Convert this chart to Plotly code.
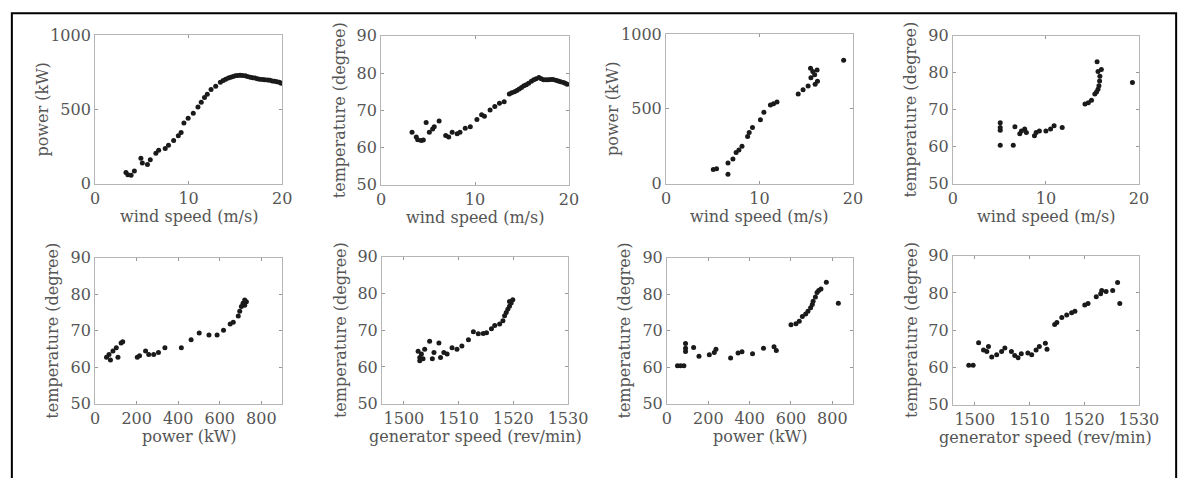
import plotly.graph_objects as go

# ---------------- data ----------------
# Panel 1: power vs wind speed (turbine A)
p1_wind = [3.3, 3.5, 3.85, 4.2, 4.9, 5.05, 5.6, 5.9, 6.5, 6.8, 7.5, 7.85, 8.4, 8.9, 9.2, 9.5,
           9.95, 10.5, 11.0, 11.35, 11.7, 12.0, 12.4, 12.9, 13.4, 13.7, 13.96, 14.25, 14.5,
           14.75, 15.0, 15.25, 15.5, 15.75, 16.06, 16.3, 16.6, 16.85, 17.1, 17.35, 17.6,
           17.9, 18.15, 18.45, 18.7, 18.95, 19.2, 19.45, 19.7, 19.9]
p1_power = [75, 60, 58, 86, 172, 140, 129, 161, 205, 226, 237, 258, 290, 322, 345, 408,
            441, 473, 516, 548, 580, 602, 634, 656, 682, 693, 703, 710, 716,
            721, 725, 728, 729, 728, 725, 721, 716, 713, 710, 706, 703,
            701, 699, 697, 695, 691, 688, 685, 682, 676]

# Panel 2: temperature vs wind speed (turbine A)
p2_wind = [3.3, 3.75, 3.9, 4.27, 4.5, 4.8, 5.14, 5.49, 5.66, 6.18, 6.88, 7.2, 7.57, 8.1, 8.4,
           8.96, 9.5, 10.2, 10.7, 11.0, 11.6, 12.1, 12.6, 13.1, 13.65, 13.9, 14.2, 14.45,
           14.7, 14.95, 15.2, 15.45, 15.7, 16.0, 16.25, 16.5, 16.8, 17.05, 17.3, 17.55,
           17.8, 18.05, 18.3, 18.6, 18.85, 19.1, 19.4, 19.6, 19.8]
p2_temp = [64.1, 62.8, 62.1, 61.9, 62.0, 66.7, 64.1, 65.0, 65.6, 67.1, 63.2, 62.8, 64.1, 63.7, 64.1,
           65.2, 65.6, 67.5, 68.8, 68.4, 70.1, 71.0, 71.9, 72.3, 74.4, 74.7, 75.0, 75.3,
           75.7, 76.1, 76.6, 76.9, 77.3, 77.8, 78.2, 78.5, 78.8, 78.5, 78.2, 78.2,
           78.2, 78.3, 78.3, 78.1, 77.9, 77.7, 77.5, 77.3, 77.0]

# Panel 3: power vs wind speed (turbine B)
p3_wind = [5.06, 5.41, 6.63, 6.63, 7.16, 7.5, 7.8, 8.13, 8.73, 8.9, 9.25, 10.1, 10.47, 11.17,
           11.5, 11.87, 14.14, 14.66, 15.2, 15.5, 15.46, 15.7, 15.9, 16.16, 16.2, 15.95, 19.0]
p3_power = [96, 100, 64, 139, 165, 208, 225, 250, 315, 343, 375, 428, 478, 525,
            535, 546, 600, 627, 653, 707, 771, 749, 728, 760, 685, 664, 824]

# Panel 4: temperature vs wind speed (turbine B)
p4_wind = [5.09, 6.49, 5.09, 5.09, 5.09, 6.67, 7.19, 7.37, 7.72, 7.9, 8.77, 8.95, 9.3, 10.0,
           10.5, 10.88, 11.75, 14.2, 14.56, 14.9, 15.26, 15.44, 15.6, 15.7, 15.77, 15.8,
           15.5, 15.6, 15.96, 19.3]
p4_temp = [60.4, 60.4, 66.5, 65.2, 64.5, 65.4, 63.5, 64.3, 64.8, 63.9, 63.0, 63.9, 64.3, 64.3,
           64.8, 65.7, 65.2, 71.6, 71.9, 72.6, 74.3, 74.8, 75.6, 76.5, 77.8, 79.1,
           83.0, 80.4, 80.9, 77.4]

# Panel 5: temperature vs power (turbine A)
p5_power = [55, 67, 74, 86, 102, 110, 125, 133, 203, 214, 243, 258, 282, 305, 336, 415, 462,
            501, 548, 587, 618, 650, 665, 689, 696, 704, 712, 720, 728, 720]
p5_temp = [62.7, 63.5, 62.0, 64.4, 65.3, 62.7, 66.6, 67.0, 62.7, 63.1, 64.4, 63.5, 63.5, 64.0,
           65.3, 65.3, 67.5, 69.4, 68.8, 68.8, 70.1, 71.8, 72.3, 74.0, 75.3, 76.6, 77.5,
           78.4, 77.9, 77.0]

# Panel 6: temperature vs generator speed (turbine A)
p6_speed = [1502.6, 1502.9, 1503.2, 1502.9, 1503.5, 1503.8, 1504.7, 1505.2, 1505.5, 1506.4,
            1506.7, 1507.3, 1507.9, 1508.8, 1509.7, 1510.6, 1511.8, 1512.7, 1513.6, 1514.5,
            1515.1, 1516.0, 1516.6, 1517.5, 1518.1, 1518.4, 1518.7, 1519.0, 1519.3, 1519.6,
            1519.3, 1519.9]
p6_temp = [64.3, 62.6, 63.5, 61.7, 62.2, 64.8, 67.0, 62.2, 63.9, 66.5,
           62.6, 63.9, 63.5, 65.2, 64.8, 65.7, 67.4, 69.6, 69.0, 69.1,
           69.3, 70.4, 71.3, 71.7, 72.6, 73.9, 74.8, 75.7, 76.5, 77.4,
           77.8, 78.3]

# Panel 7: temperature vs power (turbine B)
p7_power = [51, 66, 82, 90, 90, 90, 129, 155, 205, 229, 237, 308, 344, 363, 414, 467, 518, 529,
            600, 624, 640, 655, 671, 682, 695, 703, 707, 718, 726, 734, 745, 771, 829]
p7_temp = [60.4, 60.4, 60.4, 66.5, 65.2, 64.3, 65.4, 63.0, 63.4, 64.0, 64.9, 62.5, 63.9, 64.2,
           63.7, 65.2, 65.6, 64.6, 71.6, 71.9, 72.6, 73.9, 74.6, 75.3, 76.3, 77.2, 78.1,
           79.2, 80.5, 81.0, 81.4, 83.3, 77.5]

# Panel 8: temperature vs generator speed (turbine B)
p8_speed = [1498.9, 1499.7, 1500.7, 1501.6, 1502.5, 1502.2, 1503.1, 1504.0, 1504.9, 1505.5,
            1506.7, 1507.3, 1507.9, 1508.5, 1509.7, 1510.4, 1511.2, 1511.8, 1512.9, 1513.2,
            1514.6, 1515.0, 1515.9, 1516.8, 1517.7, 1518.3, 1520.1, 1520.7, 1522.2, 1523.0,
            1523.2, 1524.0, 1525.2, 1526.1, 1526.5]
p8_temp = [60.6, 60.6, 66.6, 64.7, 65.6, 64.3, 62.8, 63.4, 64.3, 65.2,
           64.3, 63.2, 62.6, 63.7, 63.9, 63.4, 64.7, 65.6, 66.5, 64.9,
           71.5, 72.1, 73.4, 74.1, 74.7, 75.1, 76.8, 77.2, 79.0, 79.8,
           80.7, 80.4, 80.7, 82.8, 77.2]

# axis texts and ticks
wind_ticks = [0, 10, 20]
power_ticks = [0, 500, 1000]
temp_ticks = [50, 60, 70, 80, 90]
powerx_ticks = [0, 200, 400, 600, 800]
speed_ticks = [1500, 1510, 1520, 1530]

lbl_wind = "wind speed (m/s)"
lbl_power = "power (kW)"
lbl_temp = "temperature (degree)"
lbl_speed = "generator speed (rev/min)"

# ---------------- layout ----------------
W, H = 1203, 478
FONT = "DejaVu Serif"
TXT = "#555555"
FRAME = "#b5b5b5"

panels = [
    # x, y, xlabel, ylabel, xrange, yrange, xticks, yticks, box(L,R,T,B)
    (p1_wind, p1_power, lbl_wind, lbl_power, [0, 20], [0, 1000], wind_ticks, power_ticks, (92, 283, 27, 182)),
    (p2_wind, p2_temp, lbl_wind, lbl_temp, [0, 20], [50, 90], wind_ticks, temp_ticks, (384, 576, 28, 183)),
    (p3_wind, p3_power, lbl_wind, lbl_power, [0, 20], [0, 1000], wind_ticks, power_ticks, (675, 866, 26, 182)),
    (p4_wind, p4_temp, lbl_wind, lbl_temp, [0, 20], [50, 90], wind_ticks, temp_ticks, (968, 1158, 28, 182)),
    (p5_power, p5_temp, lbl_power, lbl_temp, [0, 900], [50, 90], powerx_ticks, temp_ticks, (92, 283, 259, 411)),
    (p6_speed, p6_temp, lbl_speed, lbl_temp, [1496, 1530], [50, 90], speed_ticks, temp_ticks, (385, 575, 258, 411)),
    (p7_power, p7_temp, lbl_power, lbl_temp, [0, 900], [50, 90], powerx_ticks, temp_ticks, (676, 866, 259, 411)),
    (p8_speed, p8_temp, lbl_speed, lbl_temp, [1496, 1530], [50, 90], speed_ticks, temp_ticks, (968, 1158, 257, 412)),
]

fig = go.Figure()
layout = {}
annotations = []
for i, (xs, ys, xl, yl, xr, yr, xt, yt, box) in enumerate(panels, start=1):
    L, R, T, B = box
    sfx = "" if i == 1 else str(i)
    fig.add_trace(go.Scatter(
        x=xs, y=ys, mode="markers", xaxis="x" + sfx, yaxis="y" + sfx,
        marker=dict(size=5, color="#1a1a1a"), showlegend=False, hoverinfo="x+y"))
    common = dict(showgrid=False, zeroline=False, showline=True, linecolor=FRAME, linewidth=1,
                  mirror="ticks", ticks="inside", ticklen=3, tickcolor="#999999",
                  tickfont=dict(family=FONT, size=16, color=TXT), fixedrange=True)
    layout["xaxis" + sfx] = dict(common, domain=[L / W, R / W], range=xr, tickvals=xt,
                                 anchor="y" + sfx)
    layout["yaxis" + sfx] = dict(common, domain=[1 - B / H, 1 - T / H], range=yr, tickvals=yt,
                                 anchor="x" + sfx)
    annotations.append(dict(text=xl, xref="paper", yref="paper", x=(L + R) / 2 / W,
                            y=1 - (B + 34) / H, showarrow=False, xanchor="center", yanchor="middle",
                            font=dict(family=FONT, size=16, color=TXT)))
    off = 54 if yl == lbl_power else 43
    annotations.append(dict(text=yl, xref="paper", yref="paper", x=(L - off) / W,
                            y=1 - (T + B) / 2 / H, showarrow=False, textangle=-90,
                            xanchor="center", yanchor="middle",
                            font=dict(family=FONT, size=16, color=TXT)))

fig.update_layout(
    width=W, height=H, margin=dict(l=0, r=0, t=0, b=0),
    paper_bgcolor="white", plot_bgcolor="white",
    annotations=annotations,
    shapes=[dict(type="rect", xref="paper", yref="paper",
                 x0=7 / W, x1=1196 / W, y0=-0.2, y1=1 - 4.5 / H,
                 line=dict(color="black", width=2), fillcolor="rgba(0,0,0,0)", layer="above")],
    **layout,
)

fig.write_html("out.html")
